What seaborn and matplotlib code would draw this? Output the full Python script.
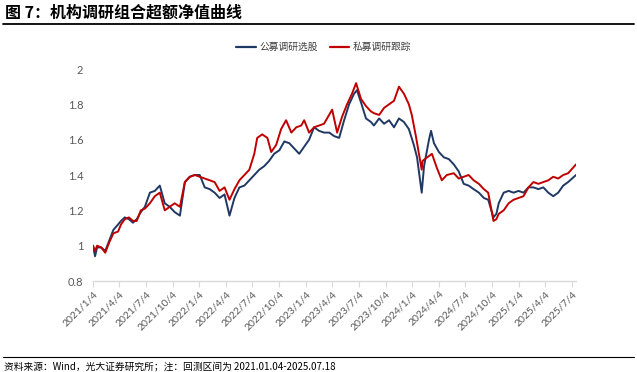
import pandas as pd
import matplotlib.pyplot as plt
from matplotlib.lines import Line2D
import seaborn as sns

# 超额净值 (roughly every 2-3 weeks)
BLUE_NAME = "公募调研选股"
RED_NAME = "私募调研跟踪"

blue_dates = [
    "2021-01-04", "2021-01-11", "2021-01-18", "2021-02-01", "2021-02-15", "2021-03-01",
    "2021-03-15", "2021-03-31", "2021-04-10", "2021-04-23", "2021-05-07", "2021-05-21",
    "2021-06-03", "2021-06-17", "2021-07-01", "2021-07-18", "2021-08-04", "2021-08-21",
    "2021-09-07", "2021-09-24", "2021-10-11", "2021-10-29", "2021-11-15", "2021-12-02",
    "2021-12-19", "2022-01-05", "2022-01-22", "2022-02-08", "2022-02-25", "2022-03-14",
    "2022-03-31", "2022-04-17", "2022-05-04", "2022-05-21", "2022-06-07", "2022-06-24",
    "2022-07-11", "2022-07-28", "2022-08-14", "2022-08-31", "2022-09-17", "2022-10-05",
    "2022-10-22", "2022-11-08", "2022-11-25", "2022-12-12", "2022-12-29", "2023-01-15",
    "2023-02-01", "2023-02-18", "2023-03-07", "2023-03-25", "2023-04-11", "2023-04-28",
    "2023-05-15", "2023-06-01", "2023-06-18", "2023-06-28", "2023-07-12", "2023-07-29",
    "2023-08-15", "2023-08-25", "2023-09-12", "2023-09-29", "2023-10-16", "2023-11-02",
    "2023-11-19", "2023-12-06", "2023-12-23", "2024-01-09", "2024-01-20", "2024-02-05",
    "2024-02-13", "2024-03-01", "2024-03-08", "2024-03-18", "2024-04-04", "2024-04-21",
    "2024-05-08", "2024-05-25", "2024-06-11", "2024-06-28", "2024-07-15", "2024-08-01",
    "2024-08-19", "2024-09-05", "2024-09-20", "2024-10-08", "2024-10-18", "2024-10-26",
    "2024-11-12", "2024-11-29", "2024-12-16", "2025-01-02", "2025-01-19", "2025-02-05",
    "2025-02-22", "2025-03-11", "2025-03-28", "2025-04-14", "2025-05-01", "2025-05-18",
    "2025-06-04", "2025-06-21", "2025-07-18",
]
blue_values = [
    1.00, 0.94, 0.99, 0.99, 0.97, 1.03,
    1.09, 1.12, 1.14, 1.16, 1.15, 1.13,
    1.15, 1.19, 1.22, 1.30, 1.31, 1.34,
    1.24, 1.22, 1.19, 1.17, 1.36, 1.39,
    1.40, 1.40, 1.33, 1.32, 1.30, 1.27,
    1.29, 1.17, 1.27, 1.33, 1.34, 1.37,
    1.40, 1.43, 1.45, 1.48, 1.52, 1.54,
    1.59, 1.58, 1.55, 1.52, 1.56, 1.60,
    1.67, 1.65, 1.64, 1.64, 1.62, 1.61,
    1.71, 1.80, 1.86, 1.88, 1.81, 1.72,
    1.70, 1.68, 1.72, 1.69, 1.71, 1.67,
    1.72, 1.70, 1.66, 1.57, 1.50, 1.30,
    1.45, 1.60, 1.65, 1.58, 1.53, 1.50,
    1.49, 1.46, 1.42, 1.35, 1.34, 1.32,
    1.30, 1.27, 1.26, 1.16, 1.18, 1.24,
    1.30, 1.31, 1.30, 1.31, 1.30, 1.33,
    1.33, 1.32, 1.33, 1.30, 1.28, 1.30,
    1.34, 1.36, 1.40,
]

red_dates = [
    "2021-01-04", "2021-01-11", "2021-01-18", "2021-02-01", "2021-02-15", "2021-03-01",
    "2021-03-15", "2021-03-31", "2021-04-10", "2021-04-23", "2021-05-07", "2021-05-21",
    "2021-06-03", "2021-06-17", "2021-07-01", "2021-07-18", "2021-08-04", "2021-08-21",
    "2021-09-07", "2021-09-24", "2021-10-11", "2021-10-29", "2021-11-15", "2021-12-02",
    "2021-12-19", "2022-01-05", "2022-01-22", "2022-02-08", "2022-02-25", "2022-03-14",
    "2022-03-31", "2022-04-17", "2022-05-04", "2022-05-21", "2022-06-07", "2022-06-24",
    "2022-07-11", "2022-07-21", "2022-08-07", "2022-08-25", "2022-09-07", "2022-09-24",
    "2022-10-11", "2022-10-28", "2022-11-15", "2022-12-02", "2022-12-19", "2022-12-29",
    "2023-01-15", "2023-02-01", "2023-02-18", "2023-03-07", "2023-04-04", "2023-04-21",
    "2023-05-08", "2023-05-25", "2023-06-11", "2023-06-25", "2023-07-12", "2023-07-29",
    "2023-08-15", "2023-08-25", "2023-09-12", "2023-09-29", "2023-10-16", "2023-11-02",
    "2023-11-19", "2023-12-06", "2023-12-23", "2024-01-02", "2024-01-16", "2024-02-05",
    "2024-02-08", "2024-02-24", "2024-03-11", "2024-03-28", "2024-04-14", "2024-05-01",
    "2024-05-25", "2024-06-11", "2024-06-28", "2024-07-15", "2024-08-01", "2024-08-19",
    "2024-09-05", "2024-09-20", "2024-10-08", "2024-10-18", "2024-10-26", "2024-11-12",
    "2024-11-29", "2024-12-16", "2025-01-02", "2025-01-19", "2025-02-05", "2025-02-22",
    "2025-03-11", "2025-03-28", "2025-04-14", "2025-05-01", "2025-05-18", "2025-06-04",
    "2025-06-21", "2025-07-18",
]
red_values = [
    1.00, 0.97, 1.00, 0.99, 0.96, 1.02,
    1.07, 1.08, 1.12, 1.15, 1.16, 1.14,
    1.14, 1.20, 1.21, 1.24, 1.28, 1.30,
    1.20, 1.22, 1.24, 1.22, 1.36, 1.39,
    1.40, 1.39, 1.38, 1.37, 1.36, 1.31,
    1.33, 1.26, 1.32, 1.37, 1.40, 1.43,
    1.52, 1.61, 1.63, 1.61, 1.53, 1.57,
    1.66, 1.71, 1.64, 1.67, 1.68, 1.71,
    1.64, 1.67, 1.68, 1.69, 1.77, 1.64,
    1.73, 1.80, 1.86, 1.92, 1.83, 1.79,
    1.76, 1.75, 1.74, 1.78, 1.80, 1.82,
    1.90, 1.86, 1.80, 1.74, 1.62, 1.43,
    1.48, 1.50, 1.52, 1.44, 1.37, 1.40,
    1.41, 1.38, 1.39, 1.40, 1.37, 1.35,
    1.32, 1.30, 1.14, 1.15, 1.18, 1.20,
    1.24, 1.26, 1.27, 1.28, 1.33, 1.36,
    1.35, 1.36, 1.37, 1.39, 1.38, 1.40,
    1.41, 1.46,
]

tick_dates = [
    "2021-01-04", "2021-04-04", "2021-07-04", "2021-10-04", "2022-01-04", "2022-04-04",
    "2022-07-04", "2022-10-04", "2023-01-04", "2023-04-04", "2023-07-04", "2023-10-04",
    "2024-01-04", "2024-04-04", "2024-07-04", "2024-10-04", "2025-01-04", "2025-04-04",
    "2025-07-04",
]
y_ticks = [0.8, 1.0, 1.2, 1.4, 1.6, 1.8, 2.0]

TITLE = "图 7：机构调研组合超额净值曲线"
SOURCE = "资料来源：Wind，光大证券研究所；注：回测区间为 2021.01.04-2025.07.18"

BLUE = "#1F3864"
RED = "#C00000"
GREY = "#595959"

df = pd.concat([
    pd.DataFrame({"date": pd.to_datetime(blue_dates), "value": blue_values, "series": BLUE_NAME}),
    pd.DataFrame({"date": pd.to_datetime(red_dates), "value": red_values, "series": RED_NAME}),
])

sns.set_theme(style="white")
plt.rcParams["font.family"] = ["Lato", "Noto Sans CJK SC", "DejaVu Sans"]
cjk = ["Noto Sans CJK SC", "DejaVu Sans"]

fig = plt.figure(figsize=(6.37, 3.72), dpi=100)
ax = fig.add_axes([93 / 637, 1 - 281 / 372, (576 - 93) / 637, (281 - 69) / 372])

sns.lineplot(data=df, x="date", y="value", hue="series",
             palette={BLUE_NAME: BLUE, RED_NAME: RED}, linewidth=1.4,
             legend=False, ax=ax)

ax.set_xlim(pd.Timestamp("2021-01-04"), pd.Timestamp("2025-07-18"))
ax.set_ylim(0.8, 2.0)
ticks = pd.to_datetime(tick_dates)
ax.set_xticks(ticks)
ax.set_xticklabels([f"{d.year}/{d.month}/{d.day}" for d in ticks], rotation=45,
                   ha="right", rotation_mode="anchor", fontsize=7.5, color=GREY)
ax.set_yticks(y_ticks)
ax.set_yticklabels([f"{v:g}" for v in y_ticks], fontsize=8, color=GREY)
ax.set_xlabel("")
ax.set_ylabel("")

for side in ["top", "right", "left"]:
    ax.spines[side].set_visible(False)
ax.spines["bottom"].set_color("#D9D9D9")
ax.spines["bottom"].set_linewidth(1.0)
ax.tick_params(axis="x", bottom=True, length=4, width=0.8, color="#D9D9D9", pad=2)
ax.tick_params(axis="y", left=False, length=0, pad=7)

# legend above the plot
handles = [Line2D([], [], color=BLUE, lw=1.6), Line2D([], [], color=RED, lw=1.6)]
fig.legend(handles, [BLUE_NAME, RED_NAME], loc="center", bbox_to_anchor=(324 / 637, 1 - 47 / 372),
           ncol=2, frameon=False, handlelength=2.0, columnspacing=1.2, handletextpad=0.4,
           prop={"family": cjk, "size": 7}, labelcolor="#404040")

# title and footer
fig.text(5 / 637, 1 - 13 / 372, TITLE, fontsize=11.5, fontweight="bold", family=cjk,
         va="center", ha="left", color="black")
fig.add_artist(Line2D([3 / 637, 634 / 637], [1 - 24 / 372] * 2, color="black", lw=1.3))
fig.add_artist(Line2D([3 / 637, 634 / 637], [1 - 357 / 372] * 2, color="black", lw=0.8))
fig.text(4 / 637, 1 - 366 / 372, SOURCE, fontsize=7, family=cjk, va="center", ha="left",
         color="black")

fig.savefig("out.png", dpi=100)
